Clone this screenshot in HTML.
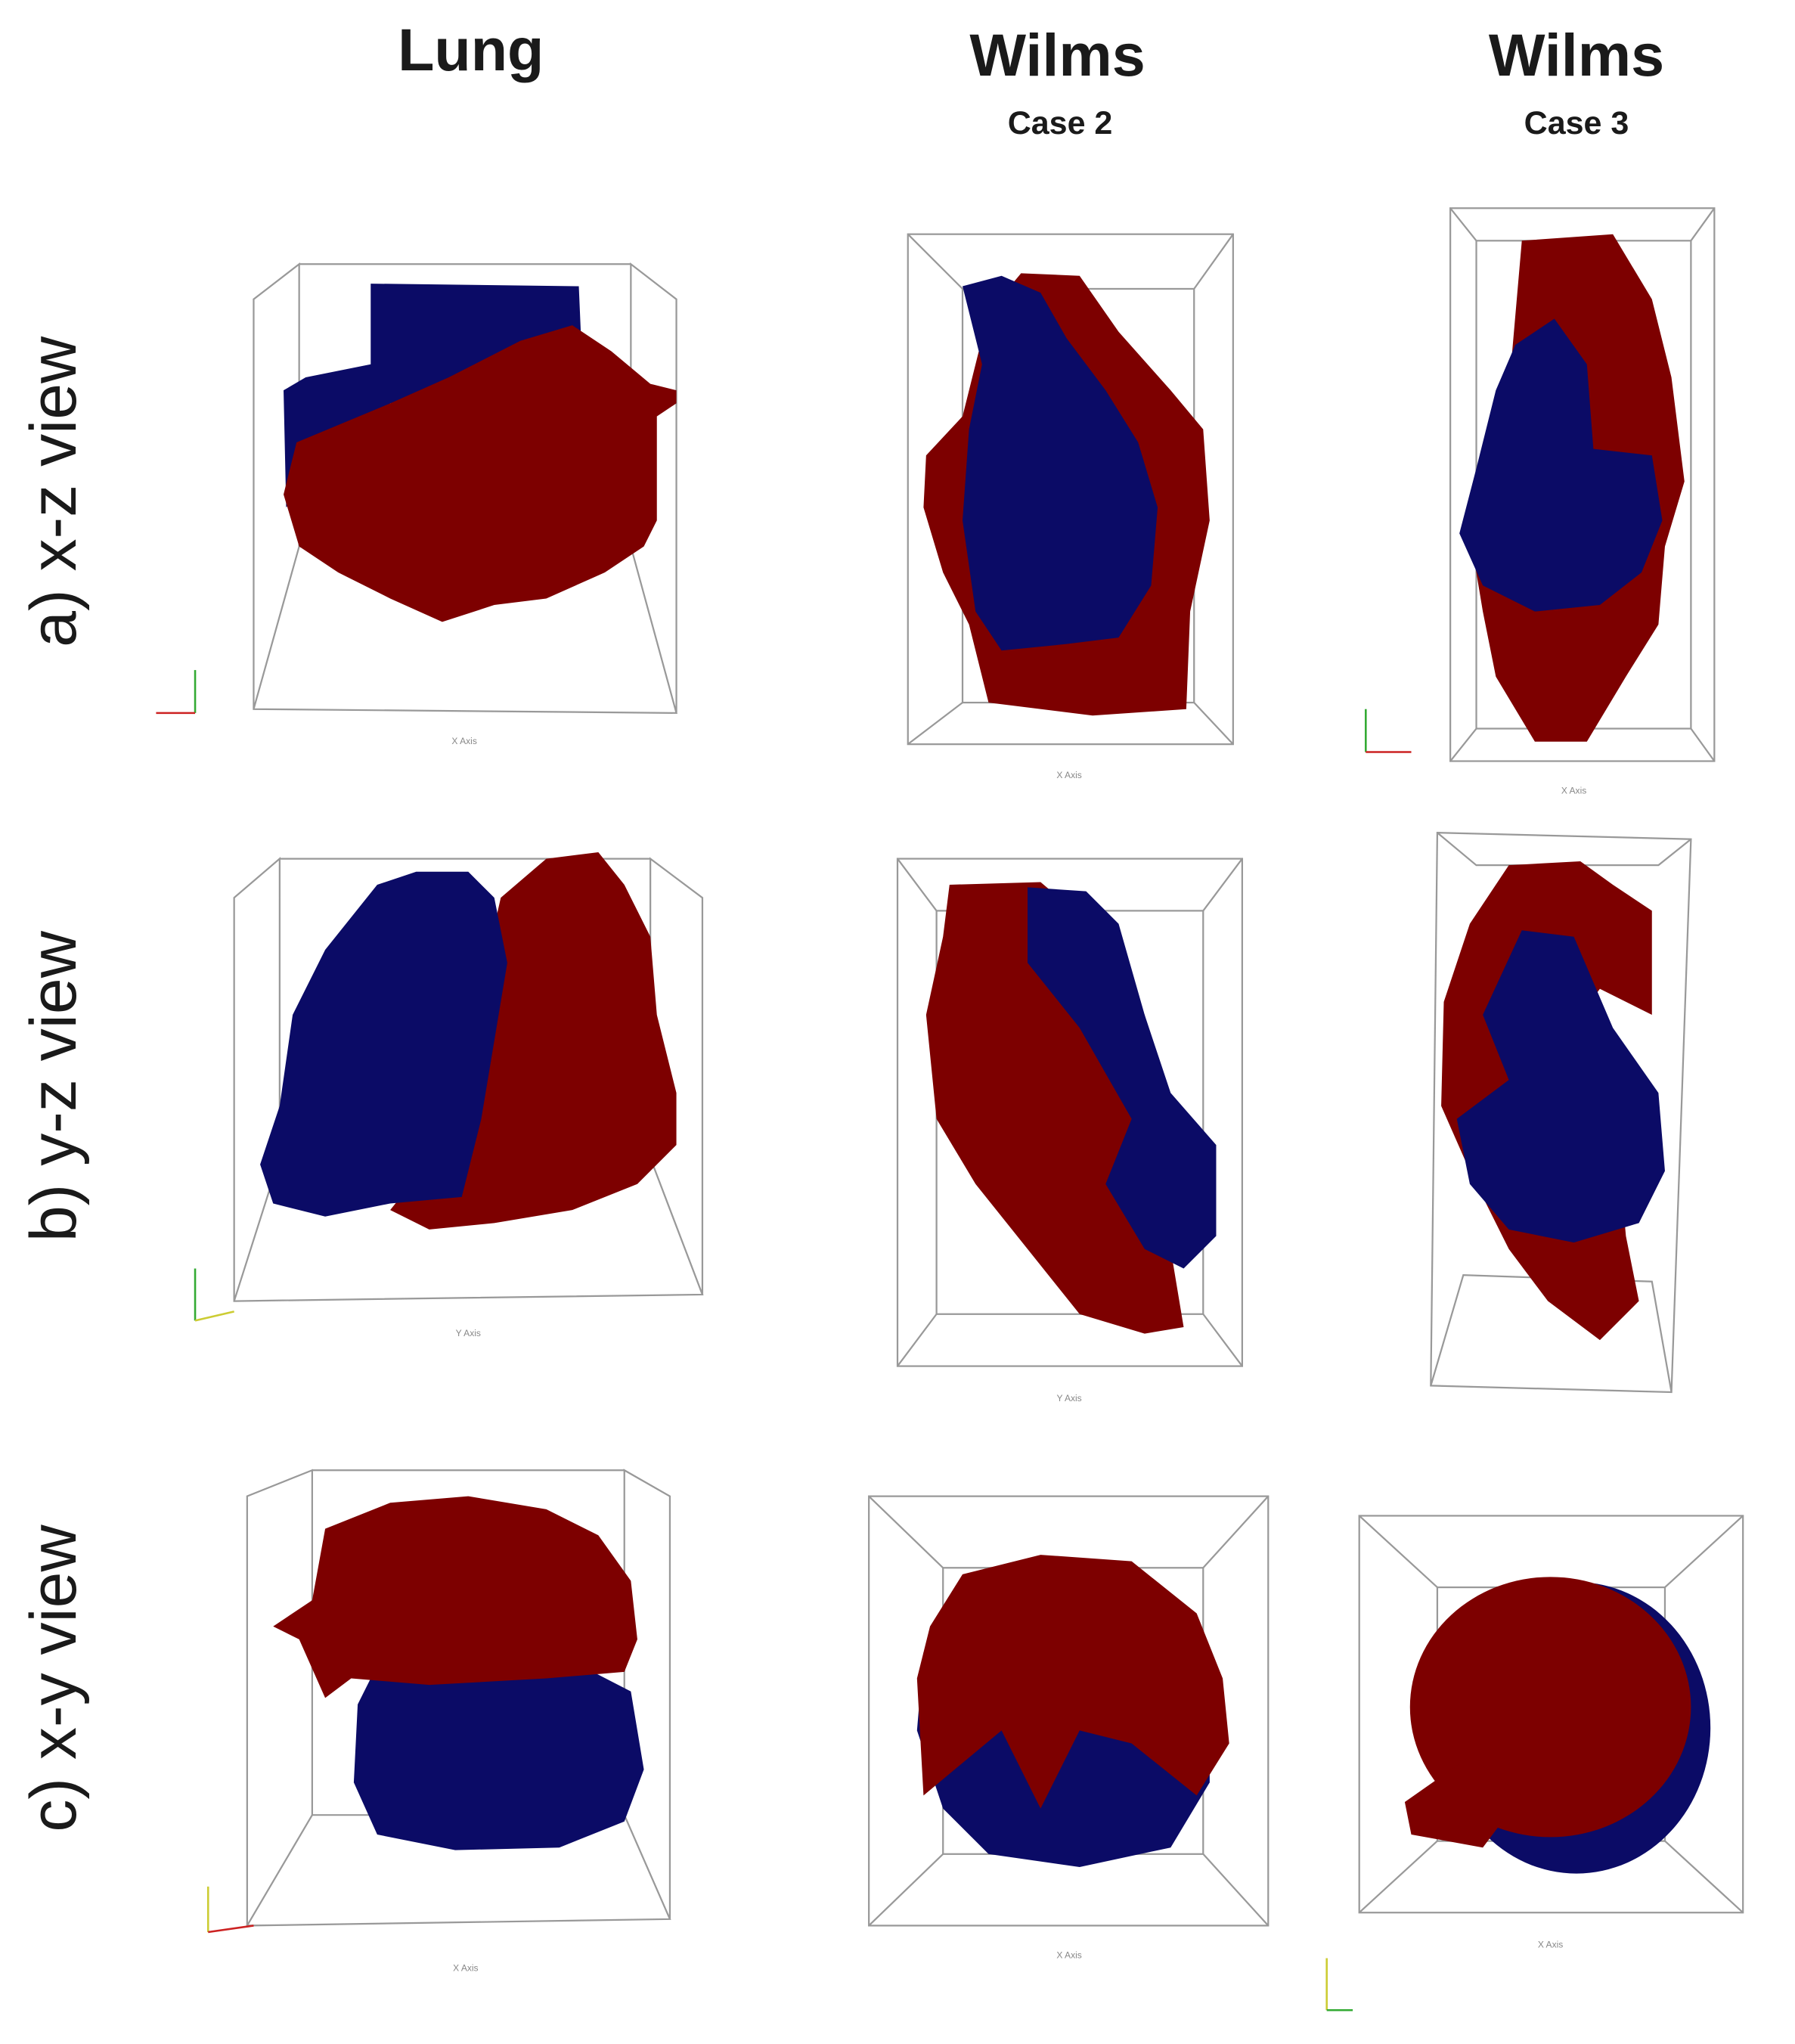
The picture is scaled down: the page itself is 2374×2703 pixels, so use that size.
<!DOCTYPE html>
<html><head><meta charset="utf-8"><style>
html,body{margin:0;padding:0;background:#fff;}
svg{display:block;}
text{font-family:"Liberation Sans",sans-serif;}
</style></head><body>
<svg width="2374" height="2703" viewBox="0 0 1380 1571" preserveAspectRatio="none" xmlns="http://www.w3.org/2000/svg">
<rect width="1380" height="1571" fill="#fff"/>
<g font-weight="bold" fill="#1a1a1a" text-anchor="middle">
<text x="362" y="54" font-size="46">Lung</text>
<text x="813" y="58" font-size="46">Wilms</text>
<text x="815" y="103" font-size="25">Case 2</text>
<text x="1212" y="58" font-size="46">Wilms</text>
<text x="1212" y="103" font-size="25">Case 3</text>
</g>
<g fill="#1a1a1a" font-size="50" text-anchor="middle">
<text transform="translate(58,378) rotate(-90)">a) x-z view</text>
<text transform="translate(58,835) rotate(-90)">b) y-z view</text>
<text transform="translate(58,1290) rotate(-90)">c) x-y view</text>
</g>
<g fill="none" stroke="#999" stroke-width="1.3">
<g>
<polyline points="195,545 230,420 230,203 195,230 195,545 520,548 485,420 485,203 520,230 520,548"/>
<line x1="230" y1="203" x2="485" y2="203"/>
<line x1="230" y1="420" x2="485" y2="420"/>
</g>
<g>
<rect x="698" y="180" width="250" height="392"/>
<rect x="740" y="222" width="178" height="318"/>
<line x1="698" y1="180" x2="740" y2="222"/><line x1="948" y1="180" x2="918" y2="222"/>
<line x1="698" y1="572" x2="740" y2="540"/><line x1="948" y1="572" x2="918" y2="540"/>
</g>
<g>
<rect x="1115" y="160" width="203" height="425"/>
<rect x="1135" y="185" width="165" height="375"/>
<line x1="1115" y1="160" x2="1135" y2="185"/><line x1="1318" y1="160" x2="1300" y2="185"/>
<line x1="1115" y1="585" x2="1135" y2="560"/><line x1="1318" y1="585" x2="1300" y2="560"/>
</g>
<g>
<polyline points="180,1000 215,890 215,660 180,690 180,1000 540,995 500,890 500,660 540,690 540,995"/>
<line x1="215" y1="660" x2="500" y2="660"/><line x1="215" y1="890" x2="500" y2="890"/>
</g>
<g>
<rect x="690" y="660" width="265" height="390"/>
<rect x="720" y="700" width="205" height="310"/>
<line x1="690" y1="660" x2="720" y2="700"/><line x1="955" y1="660" x2="925" y2="700"/>
<line x1="690" y1="1050" x2="720" y2="1010"/><line x1="955" y1="1050" x2="925" y2="1010"/>
</g>
<g>
<polygon points="1105,640 1300,645 1285,1070 1100,1065"/>
<polyline points="1105,640 1135,665 1275,665 1300,645"/>
<polyline points="1100,1065 1125,980 1270,985 1285,1070"/>
</g>
<g>
<polyline points="190,1480 240,1395 240,1130 190,1150 190,1480 515,1475 480,1395 480,1130 515,1150 515,1475"/>
<line x1="240" y1="1130" x2="480" y2="1130"/><line x1="240" y1="1395" x2="480" y2="1395"/>
</g>
<g>
<rect x="668" y="1150" width="307" height="330"/>
<rect x="725" y="1205" width="200" height="220"/>
<line x1="668" y1="1150" x2="725" y2="1205"/><line x1="975" y1="1150" x2="925" y2="1205"/>
<line x1="668" y1="1480" x2="725" y2="1425"/><line x1="975" y1="1480" x2="925" y2="1425"/>
</g>
<g>
<rect x="1045" y="1165" width="295" height="305"/>
<rect x="1105" y="1220" width="175" height="195"/>
<line x1="1045" y1="1165" x2="1105" y2="1220"/><line x1="1340" y1="1165" x2="1280" y2="1220"/>
<line x1="1045" y1="1470" x2="1105" y2="1415"/><line x1="1340" y1="1470" x2="1280" y2="1415"/>
</g>
</g>

<g>
<polygon fill="#0b0b66" points="285,218 445,220 448,290 300,310 260,345 220,390 218,300 235,290 260,285 285,280"/>
<polygon fill="#7d0000" points="228,340 300,310 345,290 400,262 440,250 470,270 500,295 520,300 520,310 505,320 505,400 495,420 465,440 420,460 380,465 340,478 300,460 260,440 230,420 218,380"/>
</g>
<g>
<polygon fill="#7d0000" points="785,210 830,212 860,255 900,300 925,330 930,400 915,470 912,545 840,550 760,540 745,480 725,440 710,390 712,350 740,320 760,240"/>
<polygon fill="#0b0b66" points="740,220 770,212 800,225 820,260 850,300 875,340 890,390 885,450 860,490 820,495 770,500 750,470 740,400 745,330 755,280"/>
</g>
<g>
<polygon fill="#7d0000" points="1170,185 1240,180 1270,230 1285,290 1295,370 1280,420 1275,480 1250,520 1220,570 1180,570 1150,520 1140,470 1130,410 1160,300"/>
<polygon fill="#0b0b66" points="1195,245 1220,280 1225,345 1270,350 1278,400 1262,440 1230,465 1180,470 1140,450 1122,410 1135,360 1150,300 1165,265"/>
</g>
<g>
<polygon fill="#7d0000" points="385,690 420,660 460,655 480,680 500,720 505,780 520,840 520,880 490,910 440,930 380,940 330,945 300,930 340,880 360,800"/>
<polygon fill="#0b0b66" points="290,680 320,670 360,670 380,690 390,740 380,800 370,860 355,920 300,925 250,935 210,925 200,895 215,850 225,780 250,730"/>
</g>
<g>
<polygon fill="#7d0000" points="730,680 800,678 850,720 880,780 900,860 900,960 910,1020 880,1025 830,1010 790,960 750,910 720,860 712,780 725,720"/>
<polygon fill="#0b0b66" points="790,682 835,685 860,710 880,780 900,840 935,880 935,950 910,975 880,960 850,910 870,860 830,790 790,740"/>
</g>
<g>
<polygon fill="#7d0000" points="1160,665 1215,662 1240,680 1270,700 1270,780 1230,760 1200,800 1240,840 1250,950 1260,1000 1230,1030 1190,1000 1160,960 1130,900 1108,850 1110,770 1130,710"/>
<polygon fill="#0b0b66" points="1170,715 1210,720 1240,790 1275,840 1280,900 1260,940 1210,955 1160,945 1130,910 1120,860 1160,830 1140,780"/>
</g>
<g>
<polygon fill="#0b0b66" points="285,1290 350,1285 450,1282 485,1300 495,1360 480,1400 430,1420 350,1422 290,1410 272,1370 275,1310"/>
<polygon fill="#7d0000" points="250,1175 300,1155 360,1150 420,1160 460,1180 485,1215 490,1260 480,1285 420,1290 330,1295 270,1290 250,1305 230,1260 210,1250 240,1230"/>
</g>
<g>
<polygon fill="#0b0b66" points="710,1270 760,1260 880,1265 930,1300 930,1370 900,1420 830,1435 760,1425 725,1390 705,1330"/>
<polygon fill="#7d0000" points="740,1210 800,1195 870,1200 920,1240 940,1290 945,1340 920,1380 870,1340 830,1330 800,1390 770,1330 710,1380 705,1290 715,1250"/>
</g>
<g>
<ellipse fill="#0b0b66" cx="1212" cy="1328" rx="103" ry="112"/>
<ellipse fill="#7d0000" cx="1192" cy="1312" rx="108" ry="100"/>
<polygon fill="#7d0000" points="1080,1385 1130,1350 1170,1380 1140,1420 1085,1410"/>
</g>

<g stroke-width="1.5">
<line x1="150" y1="548" x2="150" y2="515" stroke="#3a3"/><line x1="150" y1="548" x2="120" y2="548" stroke="#c22"/>
<line x1="1050" y1="578" x2="1050" y2="545" stroke="#3a3"/><line x1="1050" y1="578" x2="1085" y2="578" stroke="#c22"/>
<line x1="150" y1="1015" x2="150" y2="975" stroke="#3a3"/><line x1="150" y1="1015" x2="180" y2="1008" stroke="#cc3"/>
<line x1="160" y1="1485" x2="160" y2="1450" stroke="#cc3"/><line x1="160" y1="1485" x2="195" y2="1480" stroke="#c22"/>
<line x1="1020" y1="1545" x2="1020" y2="1505" stroke="#cc3"/><line x1="1020" y1="1545" x2="1040" y2="1545" stroke="#3a3"/>
</g>

<g font-size="7" fill="#888" text-anchor="middle">
<text x="357" y="572">X Axis</text>
<text x="822" y="598">X Axis</text>
<text x="1210" y="610">X Axis</text>
<text x="360" y="1027">Y Axis</text>
<text x="822" y="1077">Y Axis</text>
<text x="358" y="1515">X Axis</text>
<text x="822" y="1505">X Axis</text>
<text x="1192" y="1497">X Axis</text>
</g>
</svg>
</body></html>
